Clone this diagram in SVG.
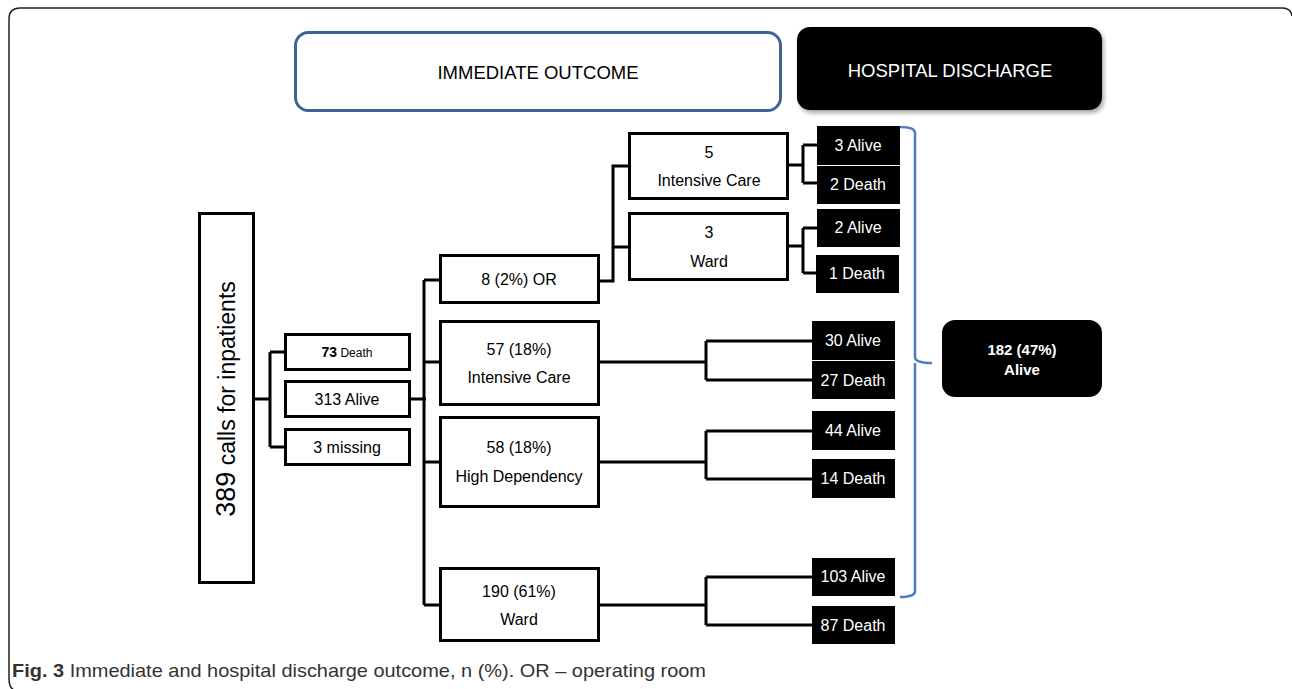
<svg xmlns="http://www.w3.org/2000/svg" width="1292" height="689" viewBox="0 0 1292 689">
<defs>
<style>
.t{font-family:"Liberation Sans",Arial,sans-serif;font-size:16px;fill:#000;text-anchor:middle}
.w{font-family:"Liberation Sans",Arial,sans-serif;font-size:16px;fill:#fff;text-anchor:middle}
.box{fill:#fff;stroke:#000;stroke-width:3}
.blk{fill:#000}
.ln{fill:none;stroke:#000;stroke-width:3}
</style>
<filter id="sh" x="-5%" y="-10%" width="115%" height="130%">
<feDropShadow dx="2" dy="3" stdDeviation="2" flood-color="#000" flood-opacity="0.35"/>
</filter>
</defs>
<rect width="1292" height="689" fill="#fff"/>
<path d="M1292,16 Q1291,8 1282,8 L20,8 Q9,8 9,19 L9,678 Q9,688 14,690" fill="none" stroke="#222" stroke-width="1.5"/>

<g id="hdr-immediate">
<rect x="295.5" y="32.5" width="485" height="78" rx="13" fill="#fff" stroke="#3e6496" stroke-width="3"/>
<text class="t" x="538" y="79" style="font-size:18.5px">IMMEDIATE OUTCOME</text>
</g>
<g id="hdr-discharge">
<rect x="797" y="27" width="305" height="83" rx="13" fill="#000" filter="url(#sh)"/>
<text class="w" x="950" y="77" style="font-size:18.5px">HOSPITAL DISCHARGE</text>
</g>

<g id="connectors">
<path class="ln" d="M253,399 H270 M270,352 V447 M270,352 H285 M270,447 H285"/>
<path class="ln" d="M409,399 H426 M424,280 V605 M424,280 H440 M424,362 H440 M424,462 H440 M424,605 H440"/>
<path class="ln" d="M599,281 H613 V166 H629 M613,247 H629"/>
<path class="ln" d="M788,165 H803 M803,145 V183 M803,145 H817 M803,183 H817"/>
<path class="ln" d="M788,246 H803 M803,228 V273 M803,228 H817 M803,273 H817"/>
<path class="ln" d="M599,362 H706 M706,341 V380 M706,341 H812 M706,380 H812"/>
<path class="ln" d="M599,462 H706 M706,431 V479 M706,431 H812 M706,479 H812"/>
<path class="ln" d="M599,605 H706 M706,577 V625 M706,577 H812 M706,625 H812"/>
<path d="M900,127 Q915,127 915,133 V357 Q915,363 932,363 M915,363 V591 Q915,597 900,597" fill="none" stroke="#4a7ebf" stroke-width="2.5"/>
</g>

<g id="n-calls">
<rect class="box" x="199.5" y="213.5" width="54" height="369"/>
<text class="t" transform="translate(235,399) rotate(-90)" style="font-size:23px"><tspan style="font-size:27px">389</tspan> calls for inpatients</text>
</g>
<g id="n-death73">
<rect class="box" x="285.5" y="334.5" width="124" height="35"/>
<text class="t" x="347" y="357"><tspan style="font-weight:bold;font-size:14px">73</tspan><tspan style="font-size:12px"> Death</tspan></text>
</g>
<g id="n-alive313">
<rect class="box" x="285.5" y="381.5" width="124" height="35"/>
<text class="t" x="347" y="405">313 Alive</text>
</g>
<g id="n-missing">
<rect class="box" x="285.5" y="429.5" width="124" height="35"/>
<text class="t" x="347" y="453">3 missing</text>
</g>

<g id="n-or">
<rect class="box" x="440.5" y="255.5" width="158" height="47"/>
<text class="t" x="519" y="285">8 (2%) OR</text>
</g>
<g id="n-ic57">
<rect class="box" x="440.5" y="321.5" width="158" height="83"/>
<text class="t" x="519" y="355">57 (18%)</text>
<text class="t" x="519" y="383">Intensive Care</text>
</g>
<g id="n-hd58">
<rect class="box" x="440.5" y="417.5" width="158" height="89"/>
<text class="t" x="519" y="453">58 (18%)</text>
<text class="t" x="519" y="482">High Dependency</text>
</g>
<g id="n-ward190">
<rect class="box" x="440.5" y="568.5" width="158" height="72"/>
<text class="t" x="519" y="597">190 (61%)</text>
<text class="t" x="519" y="625">Ward</text>
</g>

<g id="n-ic5">
<rect class="box" x="629.5" y="133.5" width="158" height="65"/>
<text class="t" x="709" y="158">5</text>
<text class="t" x="709" y="186">Intensive Care</text>
</g>
<g id="n-ward3">
<rect class="box" x="629.5" y="213.5" width="158" height="66"/>
<text class="t" x="709" y="238">3</text>
<text class="t" x="709" y="267">Ward</text>
</g>

<g id="r-3alive"><rect class="blk" x="817" y="126" width="83" height="39"/><text class="w" x="858" y="151">3 Alive</text></g>
<g id="r-2death"><rect class="blk" x="817" y="166" width="83" height="38"/><text class="w" x="858" y="190">2 Death</text></g>
<g id="r-2alive"><rect class="blk" x="817" y="209" width="83" height="38"/><text class="w" x="858" y="233">2 Alive</text></g>
<g id="r-1death"><rect class="blk" x="816" y="255" width="83" height="38"/><text class="w" x="857" y="279">1 Death</text></g>
<g id="r-30alive"><rect class="blk" x="812" y="321" width="83" height="39"/><text class="w" x="853" y="346">30 Alive</text></g>
<g id="r-27death"><rect class="blk" x="812" y="361" width="83" height="38"/><text class="w" x="853" y="386">27 Death</text></g>
<g id="r-44alive"><rect class="blk" x="812" y="411" width="83" height="39"/><text class="w" x="853" y="436">44 Alive</text></g>
<g id="r-14death"><rect class="blk" x="812" y="459" width="83" height="39"/><text class="w" x="853" y="484">14 Death</text></g>
<g id="r-103alive"><rect class="blk" x="812" y="558" width="83" height="38"/><text class="w" x="853" y="582">103 Alive</text></g>
<g id="r-87death"><rect class="blk" x="812" y="606" width="83" height="38"/><text class="w" x="853" y="631">87 Death</text></g>

<g id="n-182">
<rect x="942" y="320" width="160" height="77" rx="13" fill="#000"/>
<text class="w" x="1022" y="355" style="font-weight:bold;font-size:15px">182 (47%)</text>
<text class="w" x="1022" y="375" style="font-weight:bold;font-size:15px">Alive</text>
</g>

<text x="12" y="677" textLength="694" lengthAdjust="spacingAndGlyphs" style="font-family:'Liberation Sans',Arial,sans-serif;font-size:19px;fill:#333"><tspan style="font-weight:bold">Fig. 3</tspan> Immediate and hospital discharge outcome, n (%). OR – operating room</text>
</svg>
